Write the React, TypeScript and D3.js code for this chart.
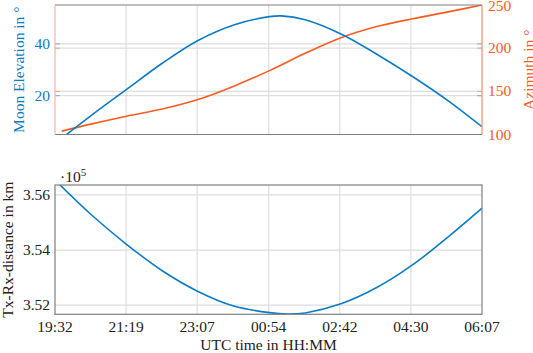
import * as d3 from 'd3';

// time axis: hours after 19:32
const timeHours = [0, 0.17, 0.9, 1.8, 2.7, 3.6, 4.5, 5.4, 5.7, 6.3, 7.2, 8.1, 9.0, 9.9, 10.75];
const elevationDeg = [1.2, 3.5, 12.2, 22.4, 32.5, 41.3, 47.3, 50.5, 50.8, 49.3, 43.8, 36.0, 27.4, 18.0, 8.0];

const azTimeHours = [0.17, 0.9, 1.8, 2.7, 3.6, 4.5, 5.4, 6.3, 7.2, 8.1, 9.0, 9.9, 10.75];
const azimuthDeg = [103.9, 112, 121.2, 129.5, 140.5, 156, 174, 194, 212, 225, 234, 242, 250];

const distTimeHours = [0, 0.9, 1.8, 2.7, 3.6, 4.5, 5.4, 5.85, 6.3, 7.2, 8.1, 9.0, 9.9, 10.75];
const distance1e5km = [3.5654, 3.5530, 3.5421, 3.5325, 3.525, 3.5197, 3.5173, 3.5168, 3.5172, 3.5205, 3.5264, 3.5346, 3.5448, 3.5552];

const xTickHours = [0, 1.79, 3.58, 5.38, 7.17, 8.96, 10.75];
const xTickLabels = ['19:32', '21:19', '23:07', '00:54', '02:42', '04:30', '06:07'];
const elevTicks = [20, 40];
const azTicks = [100, 150, 200, 250];
const distTicks = [3.52, 3.54, 3.56];

const BLUE = '#0b7cc5';
const ORANGE = '#fb5b1f';
const FRAME = '#7f7f7f';
const GRID = '#dedede';
const FONT = 'Liberation Serif';

export default function App() {
  const left = 55, right = 482;
  const top1 = 5, bottom1 = 134.5;
  const top2 = 185, bottom2 = 314.3;

  const x = d3.scaleLinear().domain([0, 10.75]).range([left, right]);
  const yElev = d3.scaleLinear().domain([5, 55]).range([bottom1, top1]);
  const yAz = d3.scaleLinear().domain([100, 250]).range([bottom1, top1]);
  const yDist = d3.scaleLinear().domain([3.5167, 3.5636]).range([bottom2, top2]);

  const curve = d3.curveCatmullRom.alpha(0.5);
  const elevLine = d3.line<number>()
    .x((_, i) => x(timeHours[i]))
    .y(d => yElev(d))
    .curve(curve);
  const azLine = d3.line<number>()
    .x((_, i) => x(azTimeHours[i]))
    .y(d => yAz(d))
    .curve(curve);
  const distLine = d3.line<number>()
    .x((_, i) => x(distTimeHours[i]))
    .y(d => yDist(d))
    .curve(curve);

  const fs = 15.5;

  return (
    <svg width={533} height={353}
      style={{ position: 'absolute', left: 0, top: 0, background: '#fff' }}>
      <defs>
        <clipPath id="clipTop">
          <rect x={left} y={top1} width={right - left} height={bottom1 - top1} />
        </clipPath>
        <clipPath id="clipBottom">
          <rect x={left} y={top2} width={right - left} height={bottom2 - top2} />
        </clipPath>
      </defs>

      {/* top panel grid */}
      <g stroke={GRID} strokeWidth={1.2}>
        {xTickHours.slice(1, -1).map((t, i) => (
          <line key={'vt' + i} x1={x(t)} x2={x(t)} y1={top1} y2={bottom1} />
        ))}
        {elevTicks.map(v => (
          <line key={'ge' + v} x1={left} x2={right} y1={yElev(v)} y2={yElev(v)} />
        ))}
        {azTicks.slice(1, -1).map(v => (
          <line key={'ga' + v} x1={left} x2={right} y1={yAz(v)} y2={yAz(v)} />
        ))}
      </g>
      {/* small coloured ticks */}
      <g strokeWidth={1.2}>
        {elevTicks.map(v => (
          <g key={'te' + v} stroke={BLUE} opacity={0.4}>
            <line x1={left} x2={left + 5} y1={yElev(v)} y2={yElev(v)} />
            <line x1={right - 5} x2={right} y1={yElev(v)} y2={yElev(v)} />
          </g>
        ))}
        {azTicks.slice(1, -1).map(v => (
          <g key={'ta' + v} stroke={ORANGE} opacity={0.4}>
            <line x1={left} x2={left + 5} y1={yAz(v)} y2={yAz(v)} />
            <line x1={right - 5} x2={right} y1={yAz(v)} y2={yAz(v)} />
          </g>
        ))}
      </g>

      <g clipPath="url(#clipTop)" fill="none" strokeWidth={1.6}>
        <path d={azLine(azimuthDeg) || ''} stroke={ORANGE} />
        <path d={elevLine(elevationDeg) || ''} stroke={BLUE} />
      </g>

      {/* top frame */}
      <line x1={left} x2={right} y1={top1} y2={top1} stroke={FRAME} strokeWidth={1.2} />
      <line x1={left} x2={right} y1={bottom1} y2={bottom1} stroke={FRAME} strokeWidth={1.2} />
      <line x1={left} x2={left} y1={top1} y2={bottom1} stroke="#f9b49b" strokeWidth={1.2} />
      <line x1={right} x2={right} y1={top1} y2={bottom1} stroke="#fc8b62" strokeWidth={1.2} />

      <g fill={BLUE} fontSize={fs} fontFamily={FONT} textAnchor="end">
        {elevTicks.map(v => (
          <text key={'le' + v} x={left - 5} y={yElev(v)} dy="0.33em">{v}</text>
        ))}
      </g>
      <g fill={ORANGE} fontSize={fs} fontFamily={FONT} textAnchor="start">
        {azTicks.map(v => (
          <text key={'ra' + v} x={right + 6} y={yAz(v) + (v === 250 ? 1 : 0)} dy="0.33em">{v}</text>
        ))}
      </g>
      <text transform={`translate(24,${(top1 + bottom1) / 2}) rotate(-90)`} textAnchor="middle"
        fill={BLUE} fontSize={fs} fontFamily={FONT}>Moon Elevation in °</text>
      <text transform={`translate(534,${(top1 + bottom1) / 2}) rotate(-90)`} textAnchor="middle"
        fill={ORANGE} fontSize={fs} fontFamily={FONT}>Azimuth in °</text>

      {/* bottom panel grid */}
      <g stroke={GRID} strokeWidth={1.2}>
        {xTickHours.slice(1, -1).map((t, i) => (
          <line key={'vb' + i} x1={x(t)} x2={x(t)} y1={top2} y2={bottom2} />
        ))}
        {distTicks.map(v => (
          <line key={'gd' + v} x1={left} x2={right} y1={yDist(v)} y2={yDist(v)} />
        ))}
      </g>
      <g clipPath="url(#clipBottom)" fill="none" strokeWidth={1.6}>
        <path d={distLine(distance1e5km) || ''} stroke={BLUE} />
      </g>
      <rect x={left} y={top2} width={right - left} height={bottom2 - top2} fill="none"
        stroke={FRAME} strokeWidth={1.2} />

      <g fill="#222" fontSize={fs} fontFamily={FONT}>
        {distTicks.map(v => (
          <text key={'ld' + v} x={left - 5} y={yDist(v)} dy="0.33em" textAnchor="end">{v.toFixed(2)}</text>
        ))}
        {xTickHours.map((t, i) => (
          <text key={'xl' + i} x={x(t)} y={332} textAnchor="middle">{xTickLabels[i]}</text>
        ))}
        <text x={60} y={181.5}>·10<tspan fontSize={11} dy={-6}>5</tspan></text>
        <text x={(left + right) / 2} y={349.5} textAnchor="middle">UTC time in HH:MM</text>
        <text transform={`translate(13,${(top2 + bottom2) / 2}) rotate(-90)`} textAnchor="middle">
          Tx-Rx-distance in km</text>
      </g>
    </svg>
  );
}
